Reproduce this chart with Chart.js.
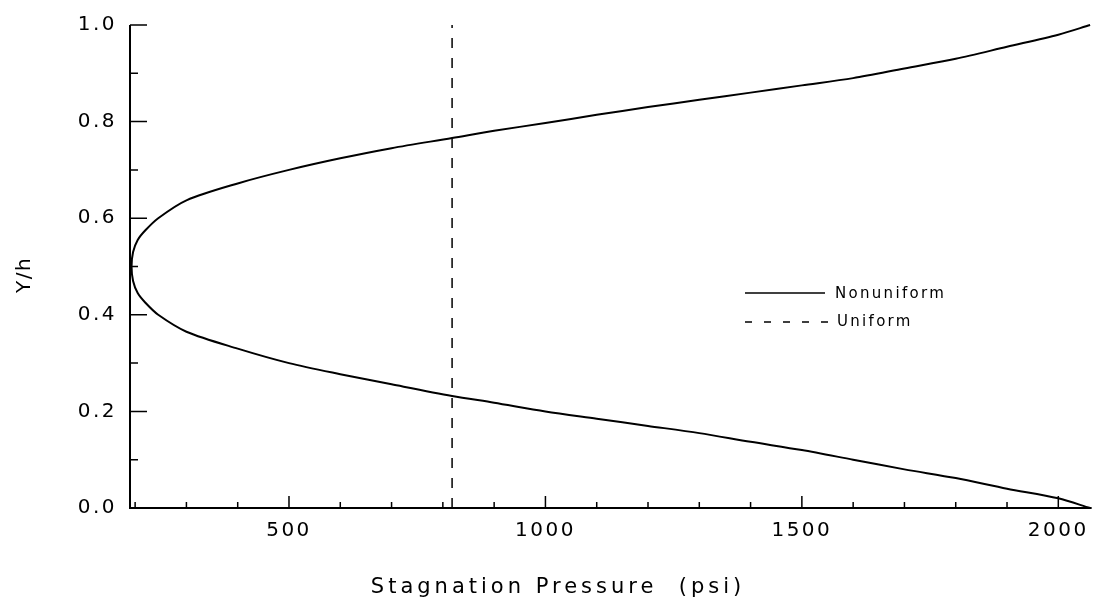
<!DOCTYPE html>
<html lang="en">
  <head>
    <meta charset="UTF-8">
    <title>Stagnation Pressure vs Y/h</title>
    <script src="https://cdn.jsdelivr.net/npm/chart.js"></script>
    <style>
      body { margin: 0; background: #fff; }
    </style>
  </head>
  <body>
    <canvas id="myChart" width="1100" height="609"></canvas>
    <script>
      // nonuniform profile, lower branch read from the right end to the tip
      const lowerPressure = [2062, 2000, 1900, 1800, 1700, 1600, 1500, 1400, 1300, 1200, 1100, 1000, 900, 818, 700, 600, 500, 400, 300, 245, 220, 205, 196, 193];
      const lowerY = [0.0, 0.02, 0.04, 0.062, 0.08, 0.10, 0.12, 0.137, 0.155, 0.17, 0.185, 0.20, 0.218, 0.232, 0.256, 0.277, 0.30, 0.33, 0.365, 0.40, 0.425, 0.445, 0.47, 0.50];
      // upper branch, from the tip out to the right end
      const upperPressure = [196, 205, 220, 245, 300, 400, 500, 600, 700, 818, 900, 1000, 1100, 1200, 1300, 1400, 1500, 1600, 1700, 1800, 1900, 2000, 2062];
      const upperY = [0.53, 0.555, 0.575, 0.60, 0.637, 0.672, 0.70, 0.724, 0.745, 0.766, 0.781, 0.797, 0.814, 0.83, 0.845, 0.86, 0.875, 0.89, 0.91, 0.93, 0.955, 0.98, 1.0];
      // uniform profile
      const uniformPressure = [818, 818];
      const uniformY = [0, 1];

      const xTickLabels = [500, 1000, 1500, 2000];
      const yTickLabels = [0, 0.2, 0.4, 0.6, 0.8, 1.0];

      const nonuniform = [];
      lowerPressure.forEach((p, i) => nonuniform.push({ x: p, y: lowerY[i] }));
      upperPressure.forEach((p, i) => nonuniform.push({ x: p, y: upperY[i] }));
      const uniform = uniformPressure.map((p, i) => ({ x: p, y: uniformY[i] }));

      const spacing = '2.5px';

      // axes with inward ticks, axis titles and the small legend inside the plot
      const frame = {
        id: 'frame',
        beforeLayout(chart) { chart.ctx.letterSpacing = spacing; },
        beforeDraw(chart) { chart.ctx.letterSpacing = spacing; },
        afterDatasetsDraw(chart) {
          const ctx = chart.ctx;
          const xs = chart.scales.x;
          const ys = chart.scales.y;
          const { left, right, top, bottom } = chart.chartArea;
          ctx.save();
          ctx.strokeStyle = '#000';
          ctx.lineWidth = 2;
          ctx.beginPath();
          ctx.moveTo(left, top);
          ctx.lineTo(left, bottom);
          ctx.lineTo(right, bottom);
          ctx.stroke();

          ctx.lineWidth = 1.5;
          ctx.beginPath();
          for (let i = 2; i <= 20; i++) {
            const px = xs.getPixelForValue(i * 100);
            const len = i % 5 === 0 ? 12 : 6;
            ctx.moveTo(px, bottom);
            ctx.lineTo(px, bottom - len);
          }
          for (let i = 1; i <= 10; i++) {
            const py = ys.getPixelForValue(i / 10);
            const len = i % 2 === 0 ? 17 : 8;
            ctx.moveTo(left, py);
            ctx.lineTo(left + len, py);
          }
          ctx.stroke();

          // legend
          ctx.beginPath();
          ctx.moveTo(745, 293);
          ctx.lineTo(825, 293);
          ctx.stroke();
          ctx.setLineDash([7, 12]);
          ctx.beginPath();
          ctx.moveTo(745, 322);
          ctx.lineTo(828, 322);
          ctx.stroke();
          ctx.setLineDash([]);
          ctx.fillStyle = '#000';
          ctx.font = '15px "DejaVu Sans"';
          ctx.letterSpacing = '2.3px';
          ctx.textBaseline = 'middle';
          ctx.textAlign = 'left';
          ctx.fillText('Nonuniform', 835, 294);
          ctx.fillText('Uniform', 837, 322);

          // axis titles
          ctx.font = '21px "DejaVu Sans"';
          ctx.letterSpacing = '4px';
          ctx.textAlign = 'center';
          ctx.fillText('Stagnation Pressure  (psi)', 558, 588);
          ctx.font = '20px "DejaVu Sans"';
          ctx.letterSpacing = '1.5px';
          ctx.translate(25, 275);
          ctx.rotate(-Math.PI / 2);
          ctx.fillText('Y/h', 0, 0);
          ctx.restore();
        }
      };

      Chart.defaults.font.family = '"DejaVu Sans"';
      Chart.defaults.font.size = 20;
      Chart.defaults.color = '#000';

      const ctx = document.getElementById('myChart');
      new Chart(ctx, {
        type: 'scatter',
        data: {
          datasets: [
            {
              label: 'Nonuniform',
              data: nonuniform,
              showLine: true,
              borderColor: '#000',
              borderWidth: 2,
              pointRadius: 0,
              tension: 0.3,
              clip: false
            },
            {
              label: 'Uniform',
              data: uniform,
              showLine: true,
              borderColor: '#000',
              borderWidth: 1.5,
              borderDash: [10, 10],
              pointRadius: 0,
              clip: false
            }
          ]
        },
        options: {
          responsive: false,
          animation: false,
          devicePixelRatio: 1,
          layout: { padding: { left: 0, right: 7, top: 24, bottom: 0 } },
          plugins: {
            legend: { display: false },
            tooltip: { enabled: false }
          },
          scales: {
            x: {
              type: 'linear',
              min: 190,
              max: 2065,
              grid: { display: false, drawTicks: false },
              border: { display: false },
              afterBuildTicks: (scale) => { scale.ticks = xTickLabels.map(v => ({ value: v })); },
              afterFit: (scale) => { scale.height = 101; },
              ticks: { padding: 11, maxRotation: 0, callback: (v) => String(v) }
            },
            y: {
              min: 0,
              max: 1,
              grid: { display: false, drawTicks: false },
              border: { display: false },
              afterBuildTicks: (scale) => { scale.ticks = yTickLabels.map(v => ({ value: v })); },
              afterFit: (scale) => { scale.width = 130; },
              ticks: { padding: 13, callback: (v) => v.toFixed(1) }
            }
          }
        },
        plugins: [frame]
      });
    </script>
  </body>
</html>
